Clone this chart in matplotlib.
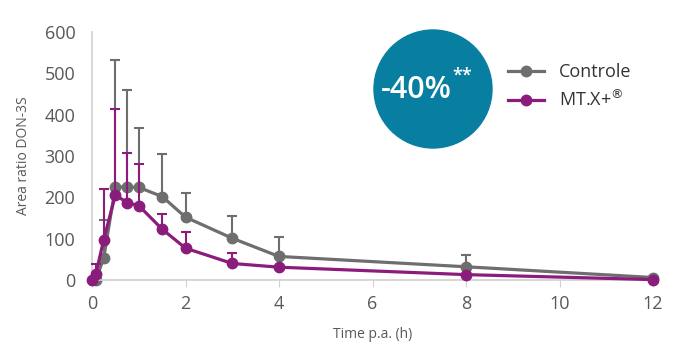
import matplotlib.pyplot as plt
from matplotlib.patches import Ellipse
from matplotlib.lines import Line2D
import numpy as np

plt.rcParams['font.family'] = ['Open Sans', 'DejaVu Sans']

# time points (h)
time_ctrl = [0.083, 0.25, 0.5, 0.75, 1, 1.5, 2, 3, 4, 8, 12]
time_mtx = [0, 0.083, 0.25, 0.5, 0.75, 1, 1.5, 2, 3, 4, 8, 12]

# mean area ratio and upper error (SD)
ctrl_mean = [0, 53, 225, 225, 224, 202, 152, 101, 57, 32, 6]
ctrl_err = [0, 91, 307, 235, 144, 102, 58, 53, 47, 29, 0]
mtx_mean = [0, 15, 97, 206, 187, 180, 123, 77, 40, 31, 13, 1]
mtx_err = [0, 24, 124, 207, 120, 100, 37, 39, 26, 0, 0, 0]

gray = '#6e6e6e'
purple = '#8c1c7c'
teal = '#087fa0'
axis_col = '#d0d0d0'
text_col = '#595959'

fig = plt.figure(figsize=(6.99, 3.55), dpi=100)
ax = fig.add_axes([92/699, 1 - 280/355, (653-92)/699, (280-32)/355])

ax.errorbar(time_ctrl, ctrl_mean, yerr=[np.zeros(len(ctrl_err)), ctrl_err],
            color=gray, lw=2.3, marker='o', ms=7.5, capsize=3.5, elinewidth=1.5,
            capthick=1.5, zorder=2, clip_on=False)
ax.errorbar(time_mtx, mtx_mean, yerr=[np.zeros(len(mtx_err)), mtx_err],
            color=purple, lw=2.3, marker='o', ms=7.5, capsize=3.5, elinewidth=1.5,
            capthick=1.5, zorder=3, clip_on=False)

ax.set_xlim(0, 12)
ax.set_ylim(0, 600)
ax.set_xticks([0, 2, 4, 6, 8, 10, 12])
ax.set_yticks([0, 100, 200, 300, 400, 500, 600])
for s in ['top', 'right']:
    ax.spines[s].set_visible(False)
for s in ['left', 'bottom']:
    ax.spines[s].set_color(axis_col)
    ax.spines[s].set_linewidth(1.2)
ax.tick_params(axis='y', length=0, labelsize=13, labelcolor=text_col, pad=12)
ax.tick_params(axis='x', length=5, color=axis_col, labelsize=13, labelcolor=text_col, pad=6)

ax.set_ylabel('Area ratio DON-3S', fontsize=10, color=text_col, labelpad=10)
ax.set_xlabel('Time p.a. (h)', fontsize=10, color=text_col, labelpad=10)

handles = [Line2D([], [], color=gray, lw=2.3, marker='o', ms=7.5),
           Line2D([], [], color=purple, lw=2.3, marker='o', ms=7.5)]
leg = ax.legend(handles, ['Controle', 'MT.X+$^{®}$'], loc='upper left',
                bbox_to_anchor=(492/699, 1 - 47/355), bbox_transform=fig.transFigure,
                frameon=False, fontsize=13, handlelength=2.0, labelspacing=0.45)
for t in leg.get_texts():
    t.set_color('#333333')

# -40% badge
fig.add_artist(Ellipse((433/699, 1 - 89/355), 118/699, 118/355, color=teal,
                       transform=fig.transFigure, zorder=5))
fig.text(416/699, 1 - 90/355, '-40%', color='white', fontsize=22, ha='center',
         va='center', weight='semibold', zorder=6)
fig.text(462/699, 1 - 76/355, '**', color='white', fontsize=13, ha='center',
         va='center', weight='semibold', zorder=6)

fig.savefig('out.png', dpi=100)
